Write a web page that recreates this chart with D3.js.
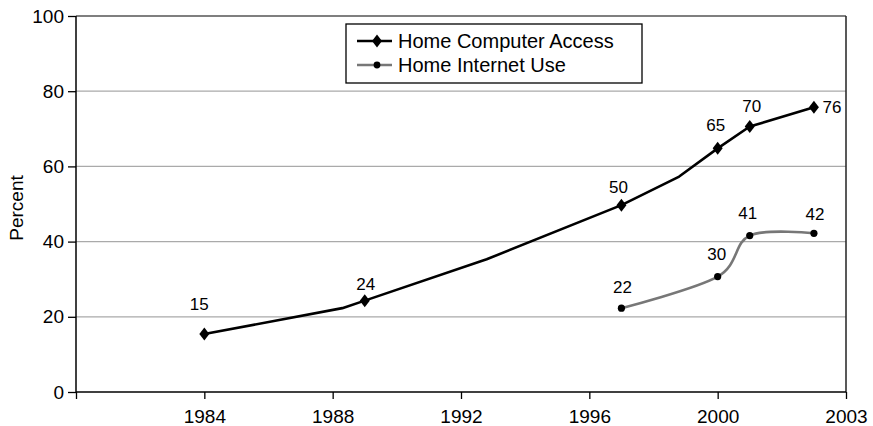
<!DOCTYPE html>
<html>
<head>
<meta charset="utf-8">
<script src="https://cdn.jsdelivr.net/npm/d3@7"></script>
<style>
  html, body { margin: 0; padding: 0; background: #fff; }
  svg { display: block; font-family: "Liberation Sans", Arial, Helvetica, sans-serif; }
</style>
</head>
<body>
<svg id="chart" width="873" height="426"></svg>
<script>
// ---- Data ----
// Home Computer Access (points with a label get a marker; unlabeled points are line vertices only)
const computerYears  = [1984, 1988.3, 1989, 1992.8, 1997, 1998.8, 2000, 2001, 2003];
const computerValues = [15.4, 22.3, 24.3, 35.3, 49.7, 57.3, 64.8, 70.6, 75.7];
const computerLabels = ["15", null, "24", null, "50", null, "65", "70", "76"];

// Home Internet Use
const internetYears  = [1997, 2000, 2001, 2003];
const internetValues = [22.3, 30.7, 41.6, 42.2];
const internetLabels = ["22", "30", "41", "42"];

const xTickValues = [1980, 1984, 1988, 1992, 1996, 2000, 2004];
const xTickLabels = ["", "1984", "1988", "1992", "1996", "2000", "2003"];
const yTickValues = [0, 20, 40, 60, 80, 100];

const seriesNames = ["Home Computer Access", "Home Internet Use"];

// ---- Layout / style ----
const W = 873, H = 426;
const margin = { top: 16, right: 27, bottom: 34, left: 76 };
const iw = W - margin.left - margin.right;
const ih = H - margin.top - margin.bottom;

const svg = d3.select("#chart");
const g = svg.append("g").attr("transform", `translate(${margin.left},${margin.top})`);

const x = d3.scaleLinear().domain([1980, 2004]).range([0, iw]);
const y = d3.scaleLinear().domain([0, 100]).range([ih, 0]);

// gridlines
g.append("g")
  .selectAll("line")
  .data(yTickValues.filter(v => v > 0 && v < 100))
  .join("line")
  .attr("x1", 0).attr("x2", iw)
  .attr("y1", d => y(d)).attr("y2", d => y(d))
  .attr("stroke", "#aaaaaa").attr("stroke-width", 1.3);

// top & right border
g.append("line").attr("x1", 0).attr("x2", iw).attr("y1", 0).attr("y2", 0)
  .attr("stroke", "#555").attr("stroke-width", 1.5);
g.append("line").attr("x1", iw).attr("x2", iw).attr("y1", 0).attr("y2", ih)
  .attr("stroke", "#222").attr("stroke-width", 1.5);

// axes
const xAxis = d3.axisBottom(x)
  .tickValues(xTickValues)
  .tickSize(7)
  .tickPadding(11)
  .tickFormat((d, i) => xTickLabels[i]);
const gx = g.append("g").attr("transform", `translate(0,${ih})`).call(xAxis);

const yAxis = d3.axisLeft(y).tickValues(yTickValues).tickSize(8).tickPadding(4);
const gy = g.append("g").call(yAxis);

[gx, gy].forEach(a => {
  a.select(".domain").attr("stroke", "#000").attr("stroke-width", 1.5);
  a.selectAll(".tick line").attr("stroke", "#000").attr("stroke-width", 1.3);
  a.selectAll(".tick text").attr("fill", "#000").style("font-size", "19px");
});
gx.select(".domain").attr("d", `M0,0H${iw}`);
gy.select(".domain").attr("d", `M0,0V${ih}`);

// y axis title
g.append("text")
  .attr("transform", `translate(${-60},${ih / 2 + 4}) rotate(-90)`)
  .attr("text-anchor", "middle")
  .attr("dominant-baseline", "central")
  .style("font-size", "19px")
  .text("Percent");

// lines
const smoothLine = d3.line()
  .x(d => x(d[0])).y(d => y(d[1]))
  .curve(d3.curveCardinal.tension(0));
const straightLine = d3.line()
  .x(d => x(d[0])).y(d => y(d[1]))
  .curve(d3.curveLinear);

const computerPts = computerYears.map((yr, i) => [yr, computerValues[i], computerLabels[i]]);
const internetPts = internetYears.map((yr, i) => [yr, internetValues[i], internetLabels[i]]);

g.append("path").datum(internetPts).attr("d", smoothLine)
  .attr("fill", "none").attr("stroke", "#777").attr("stroke-width", 2.6);
g.append("path").datum(computerPts).attr("d", straightLine)
  .attr("fill", "none").attr("stroke", "#000").attr("stroke-width", 2.6)
  .attr("stroke-linejoin", "round");

const diamond = "M0,-6.5L5,0L0,6.5L-5,0Z";

g.selectAll(".cm").data(computerPts.filter(d => d[2] !== null)).join("path")
  .attr("class", "cm")
  .attr("d", diamond)
  .attr("transform", d => `translate(${x(d[0])},${y(d[1])})`)
  .attr("fill", "#000");

g.selectAll(".im").data(internetPts).join("circle")
  .attr("class", "im")
  .attr("cx", d => x(d[0])).attr("cy", d => y(d[1])).attr("r", 3.6)
  .attr("fill", "#000");

// data labels (offsets are placement style)
const compLabelOffsets = { "15": [-5, -30], "24": [1, -16], "50": [-3, -18], "65": [-2, -23], "70": [2, -20], "76": [18, 0] };
const intLabelOffsets  = { "22": [1, -21], "30": [-1, -22], "41": [-2, -22], "42": [1, -19] };

function drawLabels(pts, offs) {
  g.selectAll(null).data(pts.filter(d => d[2] !== null)).join("text")
    .attr("x", d => x(d[0]) + offs[d[2]][0])
    .attr("y", d => y(d[1]) + offs[d[2]][1])
    .attr("text-anchor", "middle")
    .attr("dominant-baseline", "central")
    .style("font-size", "17px")
    .attr("fill", "#000")
    .text(d => d[2]);
}
drawLabels(computerPts, compLabelOffsets);
drawLabels(internetPts, intLabelOffsets);

// legend
const lg = svg.append("g").attr("transform", "translate(346,24)");
lg.append("rect").attr("x", 0).attr("y", 0).attr("width", 296).attr("height", 59)
  .attr("fill", "#fff").attr("stroke", "#000").attr("stroke-width", 1.3);
const rows = [
  { name: seriesNames[0], color: "#000", marker: "diamond", cy: 17 },
  { name: seriesNames[1], color: "#777", marker: "dot", cy: 41 }
];
rows.forEach(r => {
  lg.append("line").attr("x1", 11).attr("x2", 46).attr("y1", r.cy).attr("y2", r.cy)
    .attr("stroke", r.color).attr("stroke-width", 2.6);
  if (r.marker === "diamond") {
    lg.append("path").attr("d", diamond).attr("transform", `translate(31,${r.cy})`).attr("fill", "#000");
  } else {
    lg.append("circle").attr("cx", 31).attr("cy", r.cy).attr("r", 3.4).attr("fill", "#000");
  }
  lg.append("text").attr("x", 52).attr("y", r.cy)
    .attr("dominant-baseline", "central")
    .style("font-size", "20px")
    .attr("fill", "#000")
    .text(r.name);
});
</script>
</body>
</html>
